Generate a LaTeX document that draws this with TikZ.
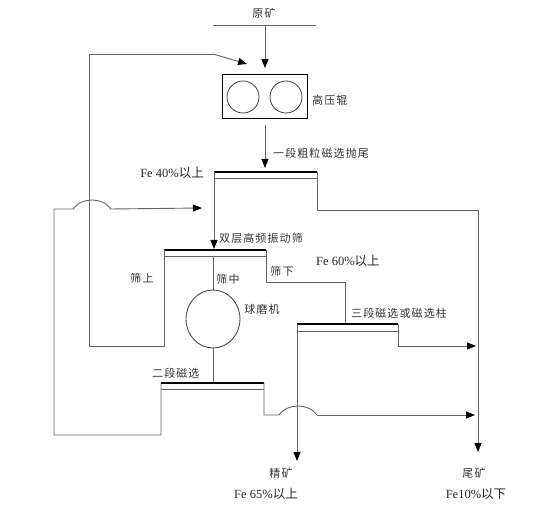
\documentclass[tikz,border=0pt]{standalone}
\usepackage{fontspec}
\setmainfont{Liberation Serif}
\newfontfamily\cjk[LetterSpace=10]{Noto Sans CJK SC}
\newfontfamily\cjkn{Noto Sans CJK SC}
\usetikzlibrary{arrows.meta,shapes.geometric}
\definecolor{lc}{RGB}{100,100,100}
\begin{document}
\begin{tikzpicture}[x=1pt,y=-1pt,
  ln/.style={draw=lc, line width=0.9pt},
  arr/.style={ln, -{Triangle[length=9pt,width=7pt,color=black]}},
  lbl/.style={font=\cjk\fontsize{11}{13}\selectfont, text=black!80, inner sep=0pt},
  fe/.style={font=\fontsize{12.5}{14}\selectfont, text=black!85, inner sep=0pt},
  sepbar/.style={draw=black, line width=1.6pt},
  septhin/.style={draw=lc, line width=0.9pt}]
\useasboundingbox (0,0) rectangle (550,510);

% feed
\coordinate (feedL) at (213,25);
\coordinate (feedR) at (316,25);
\coordinate (feedM) at (265,25);
\draw[ln] (feedL) -- (feedR);
\node[lbl] (tFeed) at (264,13) {原矿};

% HPGR box
\node[draw=black, line width=0.8pt, minimum width=85pt, minimum height=44pt, inner sep=0pt] (hpgr) at (264.5,96) {};
\node[draw=black!75, line width=0.8pt, ellipse, minimum width=32pt, minimum height=32pt, inner sep=0pt] (r1) at (243,97) {};
\node[draw=black!75, line width=0.8pt, ellipse, minimum width=32pt, minimum height=32pt, inner sep=0pt] (r2) at (286,97) {};
\node[lbl, anchor=west] (tHpgr) at (312,100) {高压辊};
\coordinate (boxTop) at (265,68);
\draw[arr] (feedM) -- (boxTop);

% separator 1
\coordinate (s1L) at (214,172);
\coordinate (s1R) at (317,172);
\coordinate (s1M) at (265,168);
\draw[sepbar] (s1L) -- (s1R);
\draw[septhin] (214,178) -- (317,178);
\coordinate (hpgrOut) at (265,125);
\draw[arr] (hpgrOut) -- (s1M);
\node[lbl, anchor=west] (t1) at (273,153) {一段粗粒磁选抛尾};
\node[fe, anchor=east] (t40) at (204,173) {Fe 40\%{\cjkn 以上}};

% tailings line
\coordinate (tailTop) at (478,210);
\coordinate (tailEnd) at (478,452);
\coordinate (s1Rdown) at (317,210);
\draw[ln] (s1R) -- (s1Rdown) -- (tailTop);
\draw[arr] (tailTop) -- (tailEnd);

% screen
\coordinate (scL) at (164,250);
\coordinate (scR) at (266,250);
\coordinate (scIn) at (214,249);
\draw[sepbar] (scL) -- (scR);
\draw[septhin] (164,256) -- (266,256);
\draw[arr] (s1L) -- (scIn);
\node[lbl, anchor=west] (tScreen) at (219,238) {双层高频振动筛};

% oversize recirculation
\coordinate (ovB) at (164,346);
\coordinate (loopB) at (89,346);
\coordinate (loopT) at (89,54);
\coordinate (loopK) at (213,54);
\coordinate (loopA) at (247,64);
\draw[ln] (scL) -- (ovB) -- (loopB) -- (loopT) -- (loopK);
\draw[arr] (loopK) -- (loopA);
\node[lbl] (tOver) at (142,278) {筛上};

% middle -> ball mill
\node[draw=black!70, line width=0.9pt, ellipse, minimum width=54pt, minimum height=58pt, inner sep=0pt] (mill) at (213,319) {};
\coordinate (scMid) at (213,256);
\draw[ln] (scMid) -- (mill.north);
\node[lbl] (tMid) at (228,279) {筛中};
\node[lbl] (tMill) at (262,309) {球磨机};

% undersize -> separator 3
\coordinate (unA) at (266,282);
\coordinate (unB) at (345,282);
\coordinate (s3L) at (297,324);
\coordinate (s3R) at (398,324);
\coordinate (s3In) at (345,324);
\draw[ln] (scR) -- (unA) -- (unB) -- (s3In);
\node[lbl] (tUnder) at (282,271) {筛下};
\node[fe, anchor=west] (t60) at (316,261) {Fe 60\%{\cjkn 以上}};
\draw[sepbar] (s3L) -- (s3R);
\draw[septhin] (297,331) -- (398,331);
\node[lbl, anchor=west] (t3) at (351,313) {三段磁选或磁选柱};
\coordinate (s3Rd) at (398,346);
\coordinate (s3T) at (476,346);
\draw[ln] (s3R) -- (s3Rd);
\draw[arr] (s3Rd) -- (s3T);
\coordinate (conc) at (297,461);
\draw[arr] (s3L) -- (conc);

% separator 2
\coordinate (s2L) at (161,383);
\coordinate (s2R) at (264,383);
\coordinate (s2In) at (213,383);
\draw[ln] (mill.south) -- (s2In);
\draw[sepbar] (s2L) -- (s2R);
\draw[septhin] (161,389) -- (264,389);
\node[lbl, anchor=west] (t2) at (152,373) {二段磁选};

% separator 2 tails with jump
\coordinate (s2Rd) at (264,415);
\coordinate (j2a) at (279,415);
\coordinate (j2b) at (317,415);
\coordinate (s2T) at (475,415);
\draw[ln] (s2R) -- (s2Rd) -- (j2a) .. controls (287,403) and (309,403) .. (j2b);
\draw[arr] (j2b) -- (s2T);

% separator 2 concentrate recycled to screen with jump
\coordinate (lbB) at (161,435);
\coordinate (lbL) at (54,435);
\coordinate (lbT) at (54,209);
\coordinate (j1a) at (73,209);
\coordinate (j1b) at (111,209);
\coordinate (lbA) at (202,208);
\draw[ln] (s2L) -- (lbB) -- (lbL) -- (lbT) -- (j1a) .. controls (81,197) and (103,197) .. (j1b);
\draw[arr] (j1b) -- (lbA);

% products
\node[lbl] (tConc) at (281,473) {精矿};
\node[fe] (t65) at (266,494) {Fe 65\%{\cjkn 以上}};
\node[lbl] (tTail) at (474,473) {尾矿};
\node[fe] (t10) at (476,494) {Fe10\%{\cjkn 以下}};
\end{tikzpicture}
\end{document}
